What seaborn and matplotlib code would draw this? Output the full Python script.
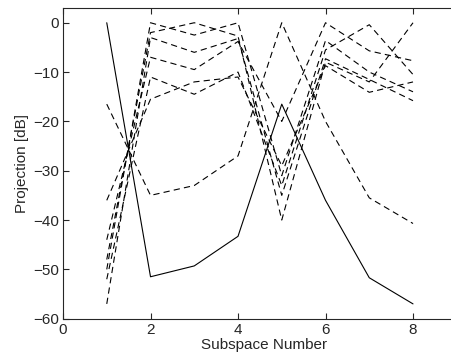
import numpy as np
import pandas as pd
import seaborn as sns
import matplotlib
matplotlib.use('Agg')
import matplotlib.pyplot as plt

subspace = [1, 2, 3, 4, 5, 6, 7, 8]

# solid curve
main_curve = [0, -51.5, -49.3, -43.3, -16.5, -36, -51.7, -57]

# dashed curves
dash_1 = [-16.5, -35, -33, -27, 0, -20, -35.5, -40.7]
dash_2 = [-50, 0, -2.5, 0, -31, -3.6, -10, -14]
dash_3 = [-48, -2, 0, -2.7, -40, -8, -12, 0]
dash_4 = [-57, -3, -6, -3.2, -35, -7.3, -11.5, -15.8]
dash_5 = [-44, -7, -9.5, -3.8, -20, 0, -5.7, -7.7]
dash_6 = [-52, -11, -14.5, -10, -33, -5.5, -0.4, -10.5]
dash_7 = [-36, -15.5, -12, -11, -29, -8.7, -14.1, -12]

dashed = [dash_1, dash_2, dash_3, dash_4, dash_5, dash_6, dash_7]

sns.set_style('ticks')
plt.rcParams['font.family'] = ['Liberation Sans', 'DejaVu Sans']
plt.rcParams['axes.unicode_minus'] = True
plt.rcParams['lines.scale_dashes'] = False

fig = plt.figure(figsize=(4.52, 3.58), dpi=100)
# axes run past the right edge of the figure, as in the original crop
ax = fig.add_axes([0.1394, 0.1098, 0.8905, 0.868])

for i, vals in enumerate(dashed):
    df = pd.DataFrame({'x': subspace, 'y': vals})
    sns.lineplot(data=df, x='x', y='y', ax=ax, color='black', linewidth=0.8,
                 linestyle=(0, (4.5, 3)), legend=False)

df = pd.DataFrame({'x': subspace, 'y': main_curve})
sns.lineplot(data=df, x='x', y='y', ax=ax, color='black', linewidth=0.8, legend=False)

ax.set_xlim(0, 9.2)
ax.set_ylim(-60, 3)
ax.set_xticks([0, 2, 4, 6, 8])
ax.set_yticks([-60, -50, -40, -30, -20, -10, 0])
ax.tick_params(direction='in', top=True, right=True, labelsize=11, length=4, width=0.8, pad=3)
for s in ax.spines.values():
    s.set_linewidth(0.8)
ax.set_xlabel('Subspace Number', fontsize=11, labelpad=1)
ax.set_ylabel('Projection [dB]', fontsize=11, labelpad=3)

fig.savefig('out.png', dpi=100)
